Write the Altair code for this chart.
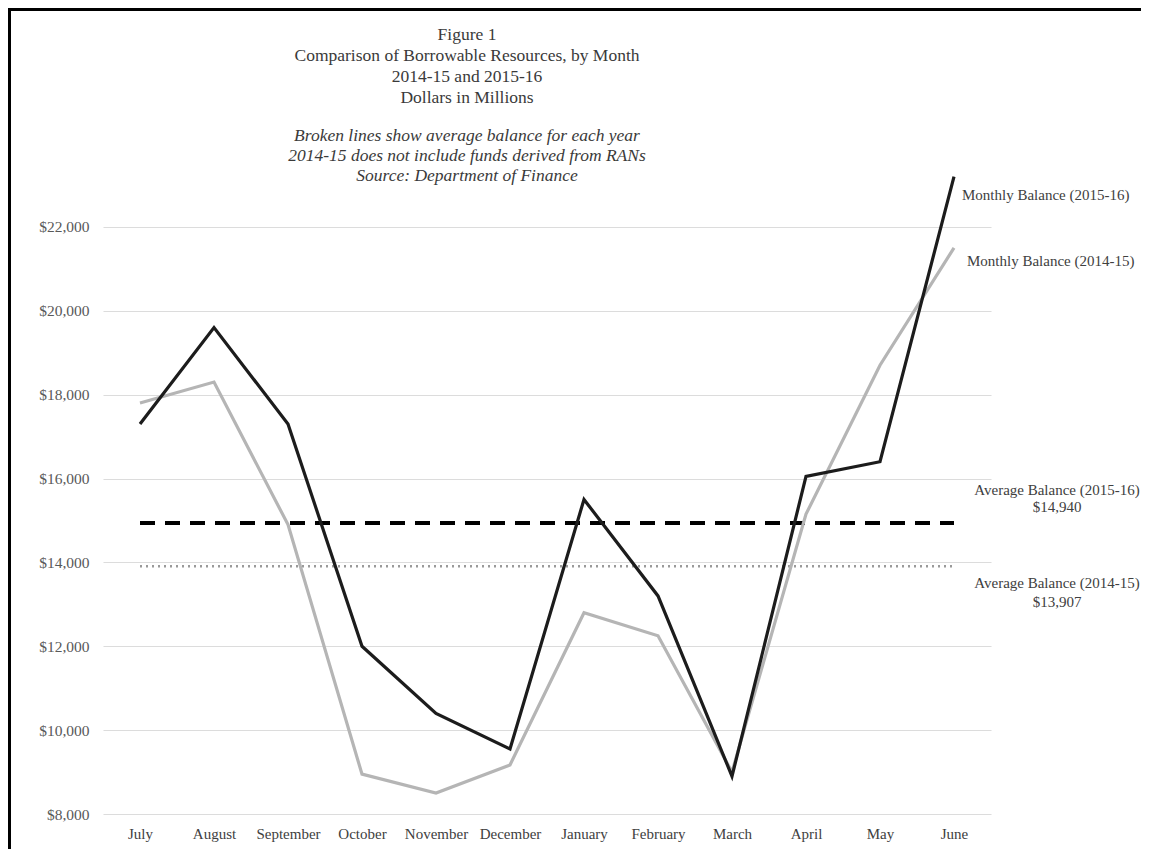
import altair as alt
import pandas as pd

months = ["July", "August", "September", "October", "November", "December",
          "January", "February", "March", "April", "May", "June"]
bal_2015_16 = [17300, 19600, 17300, 12000, 10400, 9550, 15500, 13200, 8900, 16050, 16400, 23200]
bal_2014_15 = [17800, 18300, 14900, 8950, 8500, 9170, 12800, 12250, 9000, 15150, 18700, 21500]
avg_2015_16 = 14940
avg_2014_15 = 13907
y_ticks = [8000, 10000, 12000, 14000, 16000, 18000, 20000, 22000]

title_lines = ["Figure 1", "Comparison  of Borrowable  Resources, by Month",
               "2014-15 and 2015-16", "Dollars  in Millions"]
subtitle_lines = ["Broken lines show  average balance for each year",
                  "2014-15 does not include funds derived from RANs",
                  "Source:  Department  of Finance"]

FONT = "Liberation Serif"
W, H = 888, 671

df = pd.DataFrame({
    "month": months * 2,
    "value": bal_2015_16 + bal_2014_15,
    "series": ["2015-16"] * 12 + ["2014-15"] * 12,
})
avg_df = pd.DataFrame({
    "month": months * 2,
    "value": [avg_2015_16] * 12 + [avg_2014_15] * 12,
    "series": ["2015-16"] * 12 + ["2014-15"] * 12,
})

xenc = alt.X("month:N", sort=months,
             scale=alt.Scale(type="point", padding=0.5),
             axis=alt.Axis(title=None, labelAngle=0, domain=False, ticks=False,
                           labelPadding=12, labelFont=FONT, labelFontSize=15,
                           labelColor="#404040"))
yenc = alt.Y("value:Q",
             scale=alt.Scale(domain=[8000, 24000], nice=False, zero=False),
             axis=alt.Axis(title=None, values=y_ticks, format="$,d", domain=False,
                           ticks=False, grid=True, gridColor="#dcdcdc", gridWidth=1.2,
                           labelPadding=14, labelFont=FONT, labelFontSize=15.5,
                           labelColor="#595959"))

base = alt.Chart(df)

avg_hi = alt.Chart(avg_df).transform_filter(alt.datum.series == "2015-16").mark_line(
    color="#000000", strokeWidth=4, strokeDash=[15, 10]).encode(x=xenc, y=yenc)
avg_lo = alt.Chart(avg_df).transform_filter(alt.datum.series == "2014-15").mark_line(
    color="#9a9a9a", strokeWidth=2.5, strokeDash=[2, 4]).encode(x=xenc, y=yenc)

line_lo = base.transform_filter(alt.datum.series == "2014-15").mark_line(
    color="#b5b5b5", strokeWidth=3.2).encode(x=xenc, y=yenc)
line_hi = base.transform_filter(alt.datum.series == "2015-16").mark_line(
    color="#1c1c1c", strokeWidth=3.2).encode(x=xenc, y=yenc)

txt = dict(font=FONT, fontSize=15, color="#404040")

lab_hi = alt.Chart(pd.DataFrame({"month": [months[-1]], "value": [bal_2015_16[-1]],
                                 "t": ["Monthly Balance (2015-16)"]})).mark_text(
    align="left", baseline="middle", dx=8, dy=18, **txt).encode(x=xenc, y=yenc, text="t:N")
lab_lo = alt.Chart(pd.DataFrame({"month": [months[-1]], "value": [bal_2014_15[-1]],
                                 "t": ["Monthly Balance (2014-15)"]})).mark_text(
    align="left", baseline="middle", dx=13, dy=13, **txt).encode(x=xenc, y=yenc, text="t:N")

avg_lab_df = pd.DataFrame({"month": [months[-1]] * 2, "value": [avg_2015_16] * 2,
                           "t": ["Average Balance (2015-16)", f"${avg_2015_16:,}"]})
avg_lab_df2 = pd.DataFrame({"month": [months[-1]] * 2, "value": [avg_2014_15] * 2,
                            "t": ["Average Balance (2014-15)", f"${avg_2014_15:,}"]})

al1 = alt.Chart(avg_lab_df.iloc[[0]]).mark_text(align="center", baseline="middle",
                                                 dx=103, dy=-33, **txt).encode(x=xenc, y=yenc, text="t:N")
al2 = alt.Chart(avg_lab_df.iloc[[1]]).mark_text(align="center", baseline="middle",
                                                 dx=103, dy=-16, **txt).encode(x=xenc, y=yenc, text="t:N")
al3 = alt.Chart(avg_lab_df2.iloc[[0]]).mark_text(align="center", baseline="middle",
                                                  dx=103, dy=17, **txt).encode(x=xenc, y=yenc, text="t:N")
al4 = alt.Chart(avg_lab_df2.iloc[[1]]).mark_text(align="center", baseline="middle",
                                                  dx=103, dy=36, **txt).encode(x=xenc, y=yenc, text="t:N")

# decorative frame (top and left edges)
frame_left = alt.Chart(pd.DataFrame({"a": [0]})).mark_rule(color="#000000", strokeWidth=3).encode(
    x=alt.value(-93.5), y=alt.value(-135), y2=alt.value(H + 40))
frame_top = alt.Chart(pd.DataFrame({"a": [0]})).mark_rule(color="#000000", strokeWidth=3).encode(
    x=alt.value(-95), x2=alt.value(W + 160), y=alt.value(-133.5))

chart = alt.layer(
    avg_hi, avg_lo, line_lo, line_hi, lab_hi, lab_lo, al1, al2, al3, al4, frame_left, frame_top
).properties(
    width=W, height=H,
    background="white",
    padding={"left": 95, "top": 135, "right": 150, "bottom": 35},
    autosize=alt.AutoSizeParams(type="none"),
    title=alt.TitleParams(
        text=title_lines, subtitle=subtitle_lines, anchor="middle", frame="group",
        dx=-80, offset=-178, font=FONT, fontSize=17.5, fontWeight="normal", color="#3a3a3a",
        lineHeight=21, subtitleFont=FONT, subtitleFontSize=17.5, subtitleFontStyle="italic",
        subtitleColor="#3a3a3a", subtitleLineHeight=20, subtitlePadding=21,
    ),
).configure_view(strokeWidth=0, stroke=None)

chart.save("out.html", embed_options={"renderer": "svg", "actions": False})
